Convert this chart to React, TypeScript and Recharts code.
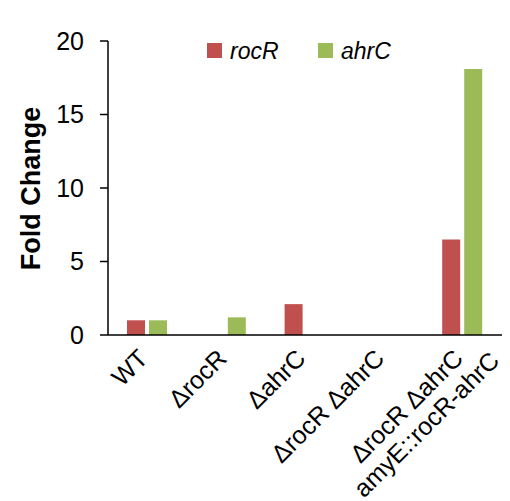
import React from 'react';
import { BarChart, Bar, XAxis, YAxis, Legend } from 'recharts';

const categories = ['WT', 'ΔrocR', 'ΔahrC', 'ΔrocR ΔahrC', 'ΔrocR ΔahrC\namyE::rocR-ahrC'];
const seriesNames = ['rocR', 'ahrC'];
const rocRValues = [1.0, 0, 2.1, 0, 6.5];
const ahrCValues = [1.0, 1.2, 0, 0, 18.1];
const yTicks = [0, 5, 10, 15, 20];

const FONT = '"Liberation Sans", Arial, sans-serif';
const RED = '#C0504D';
const GREEN = '#9BBB59';

const data = categories.map((name, i) => ({
    name,
    rocR: rocRValues[i],
    ahrC: ahrCValues[i],
}));

const XTick = ({ x, y, payload }: any) => {
    const lines = String(payload.value).split('\n');
    return (
        <g transform={`translate(${x + 2},${y + 17}) rotate(-45)`}>
            {lines.map((line, i) => (
                <text
                    key={i}
                    x={i * 24}
                    y={i * 27}
                    textAnchor="end"
                    fontSize={25}
                    fontFamily={FONT}
                    fill="#000"
                >
                    {line}
                </text>
            ))}
        </g>
    );
};

// --- Legend laid out like the Excel one ---
const LegendContent = ({ payload }: any) => {
    const spots = [207, 318];
    const items = seriesNames.map(n => (payload || []).find((p: any) => p.value === n)).filter(Boolean);
    return (
        <div style={{ position: 'relative', width: 510, height: 70 }}>
            {items.map((entry: any, i: number) => (
                <div key={entry.value}>
                    <div
                        style={{
                            position: 'absolute',
                            left: spots[i],
                            top: 43,
                            width: 15,
                            height: 15,
                            background: entry.color,
                        }}
                    />
                    <span
                        style={{
                            position: 'absolute',
                            left: spots[i] + 23,
                            top: 39.5,
                            fontSize: 23,
                            lineHeight: '23px',
                            fontStyle: 'italic',
                            fontFamily: FONT,
                            color: '#000',
                            whiteSpace: 'nowrap',
                        }}
                    >
                        {entry.value}
                    </span>
                </div>
            ))}
        </div>
    );
};

const App = () => {
    return (
        <div style={{ position: 'absolute', left: 0, top: 0, width: 510, height: 501, background: '#fff' }}>
            <BarChart
                width={510}
                height={501}
                data={data}
                margin={{ top: 41, right: 8, bottom: 16, left: 48 }}
                barSize={18}
                barGap={4}
            >
                <XAxis
                    dataKey="name"
                    axisLine={{ stroke: '#000', strokeWidth: 1.5 }}
                    tickLine={false}
                    tick={<XTick />}
                    interval={0}
                    height={150}
                />
                <YAxis
                    domain={[0, 20]}
                    ticks={yTicks}
                    width={60}
                    axisLine={{ stroke: '#000', strokeWidth: 1.5 }}
                    tickLine={{ stroke: '#000', strokeWidth: 1.5 }}
                    tickSize={8}
                    tickMargin={16}
                    tick={{ fill: '#000', fontSize: 25, fontFamily: FONT }}
                />
                <Legend
                    layout="horizontal"
                    verticalAlign="middle"
                    wrapperStyle={{ top: 0, left: 0, width: 510, height: 70 }}
                    content={<LegendContent />}
                />
                <Bar dataKey="rocR" name="rocR" fill={RED} isAnimationActive={false} />
                <Bar dataKey="ahrC" name="ahrC" fill={GREEN} isAnimationActive={false} />
                <text
                    x={39.5}
                    y={188.5}
                    transform="rotate(-90 39.5 188.5)"
                    textAnchor="middle"
                    fontSize={27}
                    fontWeight="bold"
                    fontFamily={FONT}
                    fill="#000"
                >
                    Fold Change
                </text>
            </BarChart>
        </div>
    );
};

export default App;
